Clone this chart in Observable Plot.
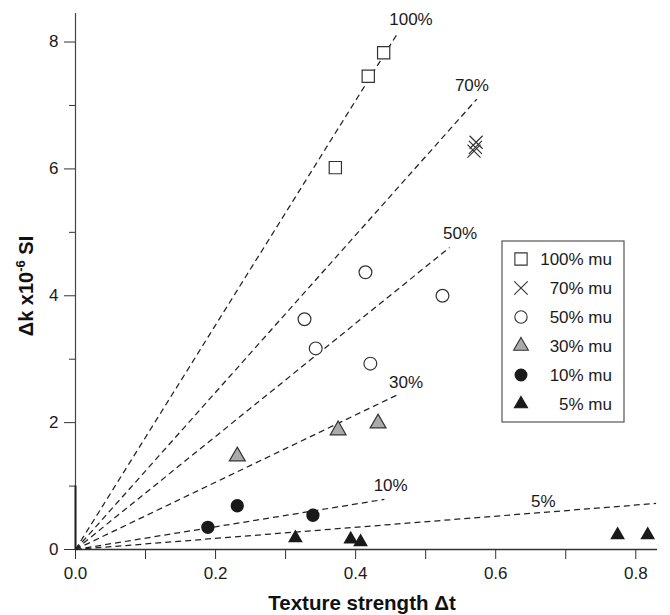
<!DOCTYPE html>
<html>
<head>
<meta charset="utf-8">
<script src="https://cdn.jsdelivr.net/npm/d3@7"></script>
<script src="https://cdn.jsdelivr.net/npm/@observablehq/plot@0.6"></script>
<style>
  html, body { margin: 0; padding: 0; background: #fff; }
  #chart { width: 670px; height: 615px; }
  svg { font-family: "Liberation Sans", Arial, sans-serif; }
</style>
</head>
<body>
<div id="chart"></div>
<script>
// ---- data ----
const sq100X = [0.371, 0.418, 0.440];
const sq100Y = [6.02, 7.46, 7.83];
const x70X = [0.572, 0.571, 0.569];
const x70Y = [6.42, 6.34, 6.28];
const c50X = [0.327, 0.343, 0.414, 0.421, 0.524];
const c50Y = [3.63, 3.17, 4.37, 2.93, 4.00];
const t30X = [0.231, 0.375, 0.432];
const t30Y = [1.47, 1.88, 1.99];
const d10X = [0.189, 0.231, 0.339];
const d10Y = [0.35, 0.69, 0.54];
const t5X = [0.314, 0.393, 0.407, 0.774, 0.817];
const t5Y = [0.18, 0.16, 0.12, 0.23, 0.23];

const lineLabels = ["100%", "70%", "50%", "30%", "10%", "5%"];
const lineEndX = [0.460, 0.573, 0.534, 0.460, 0.441, 0.829];
const lineEndY = [8.14, 7.10, 4.76, 2.44, 0.79, 0.726];
const lineLabelX = [0.479, 0.566, 0.549, 0.472, 0.450, 0.668];
const lineLabelY = [8.35, 7.32, 4.98, 2.63, 1.01, 0.75];

const xMajor = [0, 0.2, 0.4, 0.6, 0.8];
const xMinor = [0.1, 0.3, 0.5, 0.7];
const yMajor = [0, 2, 4, 6, 8];
const yMinor = [1, 3, 5, 7];

const legendLabels = ["100% mu", "70% mu", "50% mu", "30% mu", "10% mu", "5% mu"];

const xTitle = "Texture strength Δt";

// ---- build tables ----
const pts = (xs, ys) => xs.map((x, i) => ({x, y: ys[i]}));
const lines = lineLabels.map((l, i) => ({label: l, x2: lineEndX[i], y2: lineEndY[i], lx: lineLabelX[i], ly: lineLabelY[i]}));

const ink = "#1a1a1a";
const W = 670, H = 615, mL = 75, mR = 13, mT = 13, mB = 66;

const plot = Plot.plot({
  width: W, height: H,
  marginLeft: mL, marginRight: mR, marginTop: mT, marginBottom: mB,
  style: {fontFamily: "'Liberation Sans', Arial, sans-serif", fontSize: "17px", color: ink, background: "#fff"},
  x: {domain: [0, 0.831], axis: null},
  y: {domain: [0, 8.45], axis: null},
  marks: [
    // axes lines
    Plot.ruleY([0], {x1: 0, x2: 0.831, stroke: "#333", strokeWidth: 1.3}),
    Plot.ruleX([0], {y1: 0, y2: 8.45, stroke: "#444", strokeWidth: 1.2}),
    Plot.ruleX([0], {y1: 0, y2: 1, stroke: "#222", strokeWidth: 2}),
    Plot.axisX({ticks: xMajor, tickSize: 10, tickPadding: 7, tickFormat: d3.format(".1f"), label: null, stroke: "#333", fill: ink, fontSize: 17}),
    Plot.axisX({ticks: xMinor, tickSize: 10, tickFormat: () => "", label: null, stroke: "#333"}),
    Plot.axisY({ticks: yMajor, tickSize: 11, tickPadding: 6, tickFormat: d3.format("d"), label: null, stroke: "#333", fill: ink, fontSize: 17}),
    Plot.axisY({ticks: yMinor, tickSize: 6, tickFormat: () => "", label: null, stroke: "#333"}),
    // dashed reference lines
    Plot.link(lines, {x1: 0, y1: 0, x2: "x2", y2: "y2", stroke: "#222", strokeWidth: 1.25, strokeDasharray: "6,4"}),
    Plot.text(lines, {x: "lx", y: "ly", text: "label", fill: ink, fontSize: 17}),
    // data points
    Plot.dot(pts(sq100X, sq100Y), {x: "x", y: "y", symbol: "square", r: 6.9, stroke: "#333", strokeWidth: 1.2, fill: "white"}),
    Plot.dot(pts(x70X, x70Y), {x: "x", y: "y", symbol: "times", r: 6, stroke: "#333", strokeWidth: 1.2}),
    Plot.dot(pts(c50X, c50Y), {x: "x", y: "y", symbol: "circle", r: 6.4, stroke: "#333", strokeWidth: 1.2, fill: "white"}),
    Plot.dot(pts(t30X, t30Y), {x: "x", y: "y", symbol: "triangle", r: 5.9, stroke: "#333", strokeWidth: 1.2, fill: "#aaaaaa"}),
    Plot.dot(pts(d10X, d10Y), {x: "x", y: "y", symbol: "circle", r: 5.9, fill: "#1a1a1a", stroke: "#1a1a1a"}),
    Plot.dot(pts(t5X, t5Y), {x: "x", y: "y", symbol: "triangle", r: 4.5, fill: "#1a1a1a", stroke: "#1a1a1a"})
  ]
});

document.getElementById("chart").appendChild(plot);

// ---- axis titles ----
const svg = d3.select(plot);
svg.append("text")
  .attr("x", (mL + (W - mR)) / 2 - 4)
  .attr("y", 610)
  .attr("text-anchor", "middle")
  .attr("font-family", "'Liberation Sans', Arial, sans-serif")
  .attr("font-weight", "bold")
  .attr("font-size", 20.5)
  .attr("fill", "#111")
  .text(xTitle);

const yt = svg.append("text")
  .attr("transform", "translate(33,286) rotate(-90)")
  .attr("text-anchor", "middle")
  .attr("font-family", "'Liberation Sans', Arial, sans-serif")
  .attr("font-weight", "bold")
  .attr("font-size", 20)
  .attr("fill", "#111");
yt.append("tspan").text("Δk x10");
yt.append("tspan").attr("font-size", 13).attr("dy", -8).text("-6");
yt.append("tspan").attr("dy", 8).text(" SI");

// ---- legend ----
const lg = svg.append("g");
lg.append("rect").attr("x", 502).attr("y", 241).attr("width", 122).attr("height", 181)
  .attr("fill", "white").attr("stroke", "#555").attr("stroke-width", 1.2);
const legSym = [
  {s: d3.symbolSquare, size: 150, fill: "white", stroke: "#333"},
  {s: d3.symbolTimes, size: 120, fill: "none", stroke: "#333"},
  {s: d3.symbolCircle, size: 120, fill: "white", stroke: "#333"},
  {s: d3.symbolTriangle, size: 95, fill: "#aaaaaa", stroke: "#333"},
  {s: d3.symbolCircle, size: 110, fill: "#1a1a1a", stroke: "#1a1a1a"},
  {s: d3.symbolTriangle, size: 75, fill: "#1a1a1a", stroke: "#1a1a1a"}
];
legendLabels.forEach((lab, i) => {
  const cy = 259 + i * 29;
  lg.append("path").attr("d", d3.symbol(legSym[i].s, legSym[i].size)())
    .attr("transform", `translate(521,${cy})`)
    .attr("fill", legSym[i].fill).attr("stroke", legSym[i].stroke).attr("stroke-width", 1.1);
  lg.append("text").attr("x", 612).attr("y", cy).attr("dy", "0.36em")
    .attr("text-anchor", "end")
    .attr("font-family", "'Liberation Sans', Arial, sans-serif")
    .attr("font-size", 17).attr("fill", ink).text(lab);
});
</script>
</body>
</html>
